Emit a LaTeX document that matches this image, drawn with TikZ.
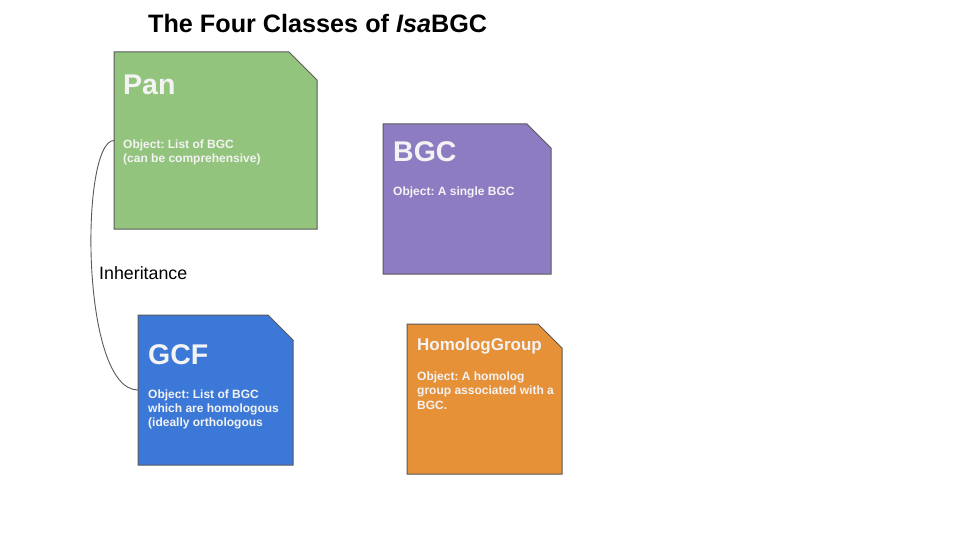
\documentclass[tikz,border=0pt]{standalone}
\usepackage{fontspec}
\setmainfont{Liberation Sans}
\frenchspacing
\definecolor{pangreen}{HTML}{93C47D}
\definecolor{bgcpurple}{HTML}{8E7CC3}
\definecolor{gcfblue}{HTML}{3C78D8}
\definecolor{hgorange}{HTML}{E69138}
\definecolor{edgegrey}{HTML}{595959}
\definecolor{txtwhite}{HTML}{F3F3F3}
\tikzset{
  frame/.style={draw=none, fill=none, inner sep=0pt, outer sep=0pt, rectangle},
  boxtitle/.style={anchor=base west, inner sep=0pt, text=txtwhite, font=\fontsize{28.5}{32}\selectfont\bfseries},
  boxbody/.style={anchor=base west, inner sep=0pt, text=txtwhite, align=left, font=\fontsize{12}{14.2}\selectfont\bfseries\frenchspacing},
  conn/.style={draw=edgegrey, line width=0.9pt},
}
\newcommand{\chambox}[3]{% node name, colour, chamfer
  \draw[edgegrey, line width=1pt, fill=#2] (#1.north west) -- ([xshift=-#3pt]#1.north east) -- ([yshift=-#3pt]#1.north east) -- (#1.south east) -- (#1.south west) -- cycle;}
\begin{document}
\begin{tikzpicture}[x=1pt, y=-1pt]
\useasboundingbox (0,0) rectangle (960,540);
\fill[white] (0,0) rectangle (960,540);

\node[anchor=base west, inner sep=0pt, font=\fontsize{25.2}{28}\selectfont\bfseries] (title) at (148,33) {The Four Classes of \textit{Isa}BGC};

% box frames
\node[frame, minimum width=203pt, minimum height=177pt] (pan) at (215.5,140.5) {};
\node[frame, minimum width=168pt, minimum height=150pt] (bgc) at (467,199) {};
\node[frame, minimum width=155pt, minimum height=150pt] (gcf) at (215.5,390) {};
\node[frame, minimum width=155pt, minimum height=150pt] (hg) at (484.5,399) {};

\chambox{pan}{pangreen}{28}
\chambox{bgc}{bgcpurple}{24}
\chambox{gcf}{gcfblue}{25}
\chambox{hg}{hgorange}{24}

% texts (base anchor = last line of a multi-line node)
\node[boxtitle] (pantitle) at (123,95) {Pan};
\node[boxbody] (panbody) at (123,163) {Object: List of BGC\\(can be comprehensive)};

\node[boxtitle] (bgctitle) at (393,161) {BGC};
\node[boxbody] (bgcbody) at (393,195) {Object: A single BGC};

\node[boxtitle] (gcftitle) at (148,364) {GCF};
\node[boxbody] (gcfbody) at (148,426.5) {Object: List of BGC\\which are homologous\\(ideally orthologous};

\node[boxtitle, font=\fontsize{17}{20}\selectfont\bfseries] (hgtitle) at (417,350) {HomologGroup};
\node[boxbody] (hgbody) at (417,409) {Object: A homolog\\group associated with a\\BGC.};

% inheritance connector
\draw[conn] (pan.west) .. controls +(-34,0) and +(-58,0) .. (gcf.west);
\node[anchor=base west, inner sep=0pt, font=\fontsize{17.8}{20}\selectfont] (inh) at (99,279) {Inheritance};
\end{tikzpicture}
\end{document}
